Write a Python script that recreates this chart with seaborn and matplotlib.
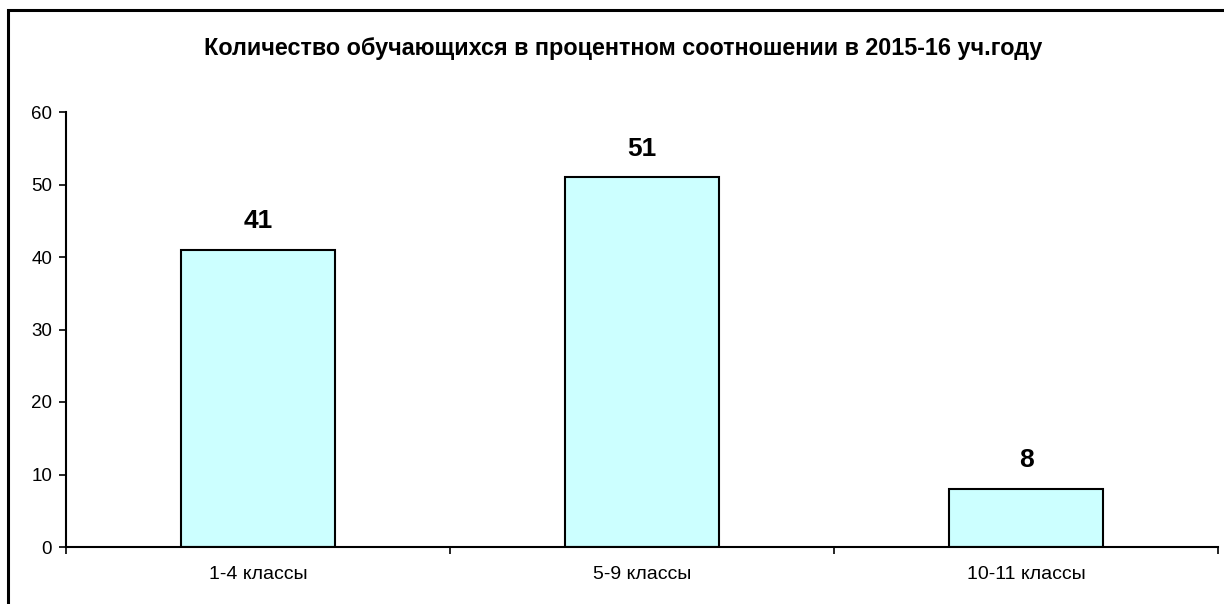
import pandas as pd
import seaborn as sns
import matplotlib.pyplot as plt
from matplotlib.patches import Rectangle

categories = ["1-4 классы", "5-9 классы", "10-11 классы"]
percent = [41, 51, 8]
title = "Количество обучающихся в процентном соотношении в 2015-16 уч.году"

df = pd.DataFrame({"Класс": categories, "Процент": percent})

sns.set_style("ticks")
plt.rcParams['font.family'] = ['Liberation Sans', 'DejaVu Sans']
plt.rcParams['text.color'] = 'black'
plt.rcParams['xtick.color'] = 'black'
plt.rcParams['ytick.color'] = 'black'
plt.rcParams['axes.edgecolor'] = 'black'

fig = plt.figure(figsize=(12.24, 6.04), dpi=100)
ax = fig.add_axes([66/1224, 57/604, 1152/1224, 435/604])

sns.barplot(data=df, x="Класс", y="Процент", color="#CCFFFF", edgecolor="black",
            linewidth=1.5, width=0.40, saturation=1, ax=ax)

for i, v in enumerate(percent):
    ax.text(i, v + 3, str(v), ha="center", va="baseline", fontsize=19, fontweight="bold")

ax.set_xlim(-0.5, 2.5)
ax.set_ylim(0, 60)
ax.set_yticks(range(0, 61, 10))
ax.set_xticks([0, 1, 2])
ax.set_xticklabels(categories, fontsize=14)
ax.tick_params(axis="y", labelsize=13.5, length=5, width=1.2, direction="out", pad=5)
ax.tick_params(axis="x", length=0, pad=14)
# category boundary ticks on x axis
ax.set_xticks([-0.5, 0.5, 1.5, 2.5], minor=True)
ax.tick_params(axis="x", which="minor", length=5, width=1.2, direction="out")
ax.set_xlabel("")
ax.set_ylabel("")
for s in ["top", "right"]:
    ax.spines[s].set_visible(False)
ax.spines["left"].set_linewidth(1.5)
ax.spines["bottom"].set_linewidth(1.5)

fig.text(623/1224, 1 - 48/604, title, ha="center", va="center", fontsize=16.8, fontweight="bold")

# outer chart border
fig.patches.append(Rectangle((8/1224, -0.05), 1.2, 1 - 10/604 + 0.05, transform=fig.transFigure,
                             fill=False, edgecolor="black", linewidth=2.2))

fig.savefig("out.png", dpi=100)
